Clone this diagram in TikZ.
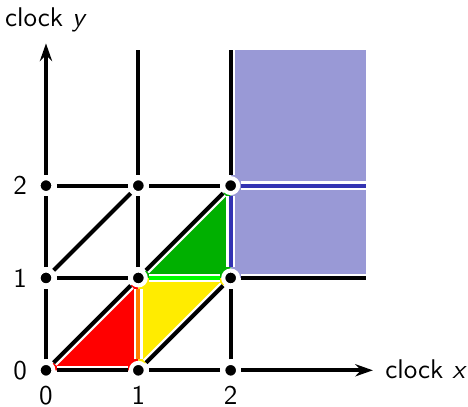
\documentclass[tikz,border=0pt]{standalone}
\usetikzlibrary{arrows.meta}
\definecolor{zonered}{RGB}{255,0,0}
\definecolor{zoneyellow}{RGB}{255,236,0}
\definecolor{zonegreen}{RGB}{0,176,0}
\definecolor{zoneblue}{RGB}{153,153,214}
\definecolor{lineorange}{RGB}{255,128,0}
\definecolor{linegreen}{RGB}{0,255,0}
\definecolor{lineblue}{RGB}{51,51,178}
\tikzset{x=1.2cm,y=1.2cm,
  dot/.style={circle,fill=black,draw=white,line width=1.5pt,inner sep=0pt,
    minimum size=5.5pt,outer sep=1.25pt},
  gridline/.style={line width=1.5pt,preaction={draw=white,line width=3.2pt}},
  axis/.style={gridline,-{Stealth[length=6.5pt,width=4.5pt]}},
  label/.style={inner sep=0pt}}

\begin{document}
\begin{tikzpicture}[font=\sffamily]
\useasboundingbox (-0.498,-0.39) rectangle (4.57,4.01);
% regions
\fill[zoneblue] (2,1) rectangle (3.47,3.47);
\fill[zonered] (0,0) -- (1,0) -- (1,1) -- cycle;
\fill[zoneyellow] (1,0) -- (2,1) -- (1,1) -- cycle;
\fill[zonegreen] (1,1) -- (2,1) -- (2,2) -- cycle;
% grid points
\foreach \i in {0,1,2}
  \foreach \j in {0,1,2}
    \node[dot] (p\i\j) at (\i,\j) {};
\coordinate (top0) at (0,3.54);
\coordinate (top1) at (1,3.47);
\coordinate (top2) at (2,3.47);
\coordinate (right0) at (3.54,0);
\coordinate (right1) at (3.46,1);
\coordinate (right2) at (3.46,2);
% axes
\draw[gridline] (p00) -- (p01);
\draw[gridline] (p01) -- (p02);
\draw[axis] (p02) -- (top0);
\draw[gridline] (p00) -- (p10);
\draw[gridline] (p10) -- (p20);
\draw[axis] (p20) -- (right0);
% vertical lines
\draw[gridline,draw=lineorange] (p10) -- (p11);
\draw[gridline] (p11) -- (p12);
\draw[gridline] (p12) -- (top1);
\draw[gridline] (p20) -- (p21);
\draw[gridline,draw=lineblue] (p21) -- (p22);
\draw[gridline] (p22) -- (top2);
% horizontal lines
\draw[gridline] (p01) -- (p11);
\draw[gridline,draw=linegreen] (p11) -- (p21);
\draw[gridline] (p21) -- (right1);
\draw[gridline] (p02) -- (p12);
\draw[gridline] (p12) -- (p22);
\draw[gridline,draw=lineblue] (p22) -- (right2);
% diagonals
\draw[gridline] (p00) -- (p11);
\draw[gridline] (p01) -- (p12);
\draw[gridline] (p10) -- (p21);
\draw[gridline] (p11) -- (p22);
% labels
\node[label,anchor=base] (ylab) at (0,3.72) {clock \textit{y}};
\node[label,anchor=base west] (xlab) at (3.67,-0.087) {clock \textit{x}};
\foreach \k in {0,1,2} {
  \node[label] (xt\k) at (\k,-0.27) {\k};
  \node[label] (yt\k) at (-0.28,\k) {\k};
}
\end{tikzpicture}
\end{document}
